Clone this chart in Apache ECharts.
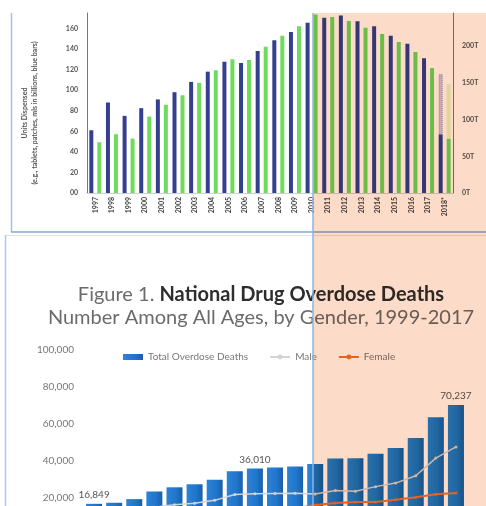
<!DOCTYPE html>
<html>
<head>
<meta charset="utf-8">
<script src="https://cdn.jsdelivr.net/npm/echarts@6/dist/echarts.min.js"></script>
<style>
html,body{margin:0;padding:0;background:#fff;}
#chart{width:486px;height:506px;}
</style>
</head>
<body>
<div id="chart"></div>
<script>
// ---- Top chart data ----
var years = ['1997','1998','1999','2000','2001','2002','2003','2004','2005','2006','2007','2008','2009','2010','2011','2012','2013','2014','2015','2016','2017','2018*'];
var unitsDispensed = [61, 88, 75, 82.5, 91, 98, 108, 118, 127.5, 126.5, 138, 148.5, 156.5, 165.5, 170.5, 172.5, 167, 162, 153, 145, 131, 57];
var unitsProjected = [null, null, null, null, null, null, null, null, null, null, null, null, null, null, null, null, null, null, null, null, null, 58.5];
var mmeDispensed = [69, 80, 74, 104, 120, 133, 150, 167, 182, 181, 199, 214, 227, 243, 239.5, 234, 225, 216.5, 205.5, 192, 170, 74];
var mmeProjected = [null, null, null, null, null, null, null, null, null, null, null, null, null, null, null, null, null, null, null, null, null, 74];
var leftTicks = [0, 20, 40, 60, 80, 100, 120, 140, 160];
var rightTicks = [0, 50, 100, 150, 200];

// ---- Bottom chart data ----
var deathYears = ['1999','2000','2001','2002','2003','2004','2005','2006','2007','2008','2009','2010','2011','2012','2013','2014','2015','2016','2017'];
var totalDeaths = [16849, 17415, 19394, 23518, 25785, 27424, 29813, 34425, 36010, 36450, 37004, 38329, 41340, 41502, 43982, 47055, 52404, 63632, 70237];
var maleDeaths = [11258, 11563, 12658, 14992, 16399, 17120, 18724, 21893, 22298, 22468, 22593, 22134, 24023, 23633, 26143, 28055, 32039, 41558, 47600];
var femaleDeaths = [5591, 5852, 6736, 8526, 9386, 10304, 11089, 12532, 13712, 13982, 14411, 16195, 17317, 17869, 17839, 19000, 20365, 22074, 22637];
var labelledYears = ['1999', '2007', '2017'];
var deathTicks = [0, 20000, 40000, 60000, 80000, 100000];

var chart = echarts.init(document.getElementById('chart'), null, {renderer: 'canvas'});

var totalData = totalDeaths.map(function (v, i) {
  var show = labelledYears.indexOf(deathYears[i]) >= 0;
  return {value: v, label: {show: show}};
});

var FONT = 'Lato';

var option = {
  animation: false,
  backgroundColor: '#ffffff',
  textStyle: {fontFamily: FONT},
  title: [
    {
      text: 'Figure 1. {b|National Drug Overdose Deaths}',
      left: 256, top: 280, textAlign: 'center',
      textStyle: {fontFamily: FONT, fontSize: 20, fontWeight: 'normal', color: '#6b6b6b',
        rich: {b: {fontFamily: FONT, fontSize: 20, fontWeight: 'bold', color: '#2e2e2e'}}}
    },
    {
      text: 'Number Among All Ages, by Gender, 1999-2017',
      left: 256, top: 303, textAlign: 'center',
      textStyle: {fontFamily: FONT, fontSize: 20, fontWeight: 'normal', color: '#6b6b6b'}
    }
  ],
  legend: {
    left: 118, top: 347,
    itemWidth: 20, itemHeight: 6, itemGap: 21,
    textStyle: {fontFamily: FONT, fontSize: 10, color: '#777'},
    data: [
      {name: 'Total Overdose Deaths', icon: 'rect'},
      {name: 'Male'},
      {name: 'Female'}
    ]
  },
  grid: [
    {left: 87, right: 33, top: 13, height: 180, outerBoundsMode: 'none', containLabel: false},
    {left: 84, right: 20, top: 350, height: 185, outerBoundsMode: 'none', containLabel: false}
  ],
  xAxis: [
    {
      type: 'category', gridIndex: 0, data: years,
      axisLine: {show: true, lineStyle: {color: '#d0d0d0'}},
      axisTick: {show: false},
      axisLabel: {rotate: 90, margin: 4, fontSize: 7, fontWeight: 'bold', color: '#444', interval: 0}
    },
    {
      type: 'category', gridIndex: 1, data: deathYears,
      axisLine: {show: false}, axisTick: {show: false},
      axisLabel: {fontSize: 10, color: '#666'}
    }
  ],
  yAxis: [
    {
      type: 'value', gridIndex: 0, min: 0, max: 175, interval: 20,
      axisLine: {show: true, lineStyle: {color: '#777', width: 1}},
      axisTick: {show: false},
      splitLine: {show: false},
      axisLabel: {margin: 9, fontSize: 7, fontWeight: 'bold', color: '#555', showMaxLabel: false,
        formatter: function (v) { return leftTicks.indexOf(v) >= 0 ? (v === 0 ? '00' : String(v)) : ''; }}
    },
    {
      type: 'value', gridIndex: 0, position: 'right', min: 0, max: 245, interval: 50,
      axisLine: {show: true, lineStyle: {color: '#777', width: 1}},
      axisTick: {show: false},
      splitLine: {show: false},
      axisLabel: {margin: 9, fontSize: 7, fontWeight: 'bold', color: '#555', showMaxLabel: false,
        formatter: function (v) { return rightTicks.indexOf(v) >= 0 ? v + 'T' : ''; }}
    },
    {
      type: 'value', gridIndex: 1, min: 0, max: 100000, interval: 20000,
      axisLine: {show: false}, axisTick: {show: false}, splitLine: {show: false},
      axisLabel: {margin: 10, fontSize: 10, color: '#777',
        formatter: function (v) { return deathTicks.indexOf(v) >= 0 ? v.toLocaleString('en-US') : ''; }}
    }
  ],
  series: [
    {
      name: 'Units Dispensed', type: 'bar', xAxisIndex: 0, yAxisIndex: 0, stack: 'units',
      data: unitsDispensed, barWidth: 4, barGap: '100%',
      itemStyle: {color: '#34408f'}
    },
    {
      name: 'Units Projected', type: 'bar', xAxisIndex: 0, yAxisIndex: 0, stack: 'units',
      data: unitsProjected, barWidth: 4, barGap: '100%',
      itemStyle: {color: '#c9c9e2', borderColor: '#8a8ab8', borderWidth: 1, borderType: 'dotted'}
    },
    {
      name: 'MME Dispensed', type: 'bar', xAxisIndex: 0, yAxisIndex: 1, stack: 'mme',
      data: mmeDispensed, barWidth: 4, barGap: '100%',
      itemStyle: {color: '#6ddb5b'}
    },
    {
      name: 'MME Projected', type: 'bar', xAxisIndex: 0, yAxisIndex: 1, stack: 'mme',
      data: mmeProjected, barWidth: 4, barGap: '100%',
      itemStyle: {color: '#e3f6c6'}
    },
    {
      name: 'Total Overdose Deaths', type: 'bar', xAxisIndex: 1, yAxisIndex: 2,
      data: totalData, barWidth: 16,
      itemStyle: {
        color: new echarts.graphic.LinearGradient(0, 0, 1, 0, [
          {offset: 0, color: '#2b82d6'},
          {offset: 0.6, color: '#1f76cc'},
          {offset: 1, color: '#1a5ea8'}
        ])
      },
      label: {position: 'top', distance: 4, fontSize: 10, color: '#555',
        formatter: function (p) { return p.value.toLocaleString('en-US'); }}
    },
    {
      name: 'Male', type: 'line', xAxisIndex: 1, yAxisIndex: 2,
      data: maleDeaths, symbol: 'circle', symbolSize: 3, z: 5,
      lineStyle: {color: '#d4d4d4', width: 1.5},
      itemStyle: {color: '#d4d4d4'}
    },
    {
      name: 'Female', type: 'line', xAxisIndex: 1, yAxisIndex: 2,
      data: femaleDeaths, symbol: 'circle', symbolSize: 3, z: 5,
      lineStyle: {color: '#e8722c', width: 2},
      itemStyle: {color: '#e8722c'}
    }
  ],
  graphic: {
    elements: [
      {type: 'text', x: 25, y: 113, rotation: Math.PI / 2, z: 50,
        style: {text: 'Units Dispensed', fontFamily: FONT, fontSize: 7, fontWeight: 'bold', fill: '#555', align: 'center', verticalAlign: 'middle'}},
      {type: 'text', x: 35, y: 113, rotation: Math.PI / 2, z: 50,
        style: {text: '(e.g., tablets, patches, mls in billions, blue bars)', fontFamily: FONT, fontSize: 7, fontWeight: 'bold', fill: '#555', align: 'center', verticalAlign: 'middle'}},
      {type: 'line', z: 60, shape: {x1: 11.5, y1: 13, x2: 11.5, y2: 232}, style: {stroke: '#9cc2ea', lineWidth: 1.5}},
      {type: 'line', z: 60, shape: {x1: 11, y1: 232, x2: 486, y2: 232}, style: {stroke: '#7fa8d8', lineWidth: 1.5}},
      {type: 'line', z: 60, shape: {x1: 5, y1: 235.5, x2: 486, y2: 235.5}, style: {stroke: '#e4e4e4', lineWidth: 1}},
      {type: 'line', z: 60, shape: {x1: 5.5, y1: 235, x2: 5.5, y2: 506}, style: {stroke: '#a9c9ec', lineWidth: 1.5}},
      {type: 'rect', z: 100, shape: {x: 313, y: 13, width: 173, height: 493}, style: {fill: '#fcdbc9', blend: 'multiply'}},
      {type: 'line', z: 101, shape: {x1: 313, y1: 13, x2: 313, y2: 506}, style: {stroke: '#8fb4de', lineWidth: 1.5}}
    ]
  }
};

chart.setOption(option);
</script>
</body>
</html>
